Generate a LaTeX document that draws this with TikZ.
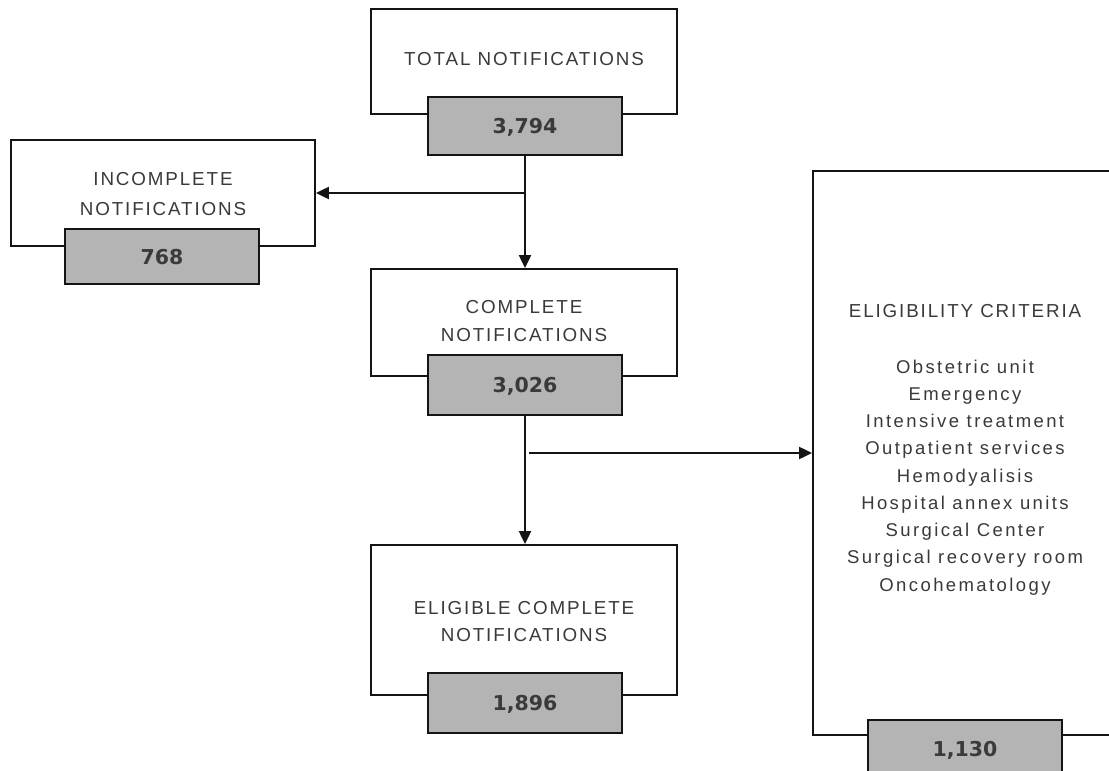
\documentclass[tikz,border=0pt]{standalone}
\usepackage{fontspec}
\setmainfont{Liberation Sans}
\newfontfamily\headfont[LetterSpace=10]{Liberation Sans}
\newfontfamily\listfont[LetterSpace=13]{Liberation Sans}
\newfontfamily\numfont{DejaVu Sans}
\usetikzlibrary{arrows.meta}
\definecolor{txtgray}{HTML}{3A3A3A}
\definecolor{boxgray}{HTML}{B4B4B4}
\definecolor{linecol}{HTML}{141414}
\begin{document}
\begin{tikzpicture}[x=1pt,y=-1pt,
  outerbox/.style={draw=linecol, line width=1.8pt, fill=white, inner sep=0pt},
  numbox/.style={draw=linecol, line width=2pt, fill=boxgray, minimum width=194, minimum height=58, inner sep=0pt, text depth=0pt, font=\numfont\bfseries\fontsize{20.5}{24}\selectfont, text=txtgray},
  head/.style={font=\headfont\fontsize{18.8}{22}\selectfont, text=txtgray, anchor=base, inner sep=0pt},
  crit/.style={font=\listfont\fontsize{18.5}{22}\selectfont, text=txtgray, anchor=base, inner sep=0pt},
  conn/.style={line width=2pt, draw=linecol},
  arr/.style={conn, -{Triangle[length=13pt,width=12pt]}}]
\useasboundingbox (0,0) rectangle (1109,771);
\fill[white] (0,0) rectangle (1109,771);
\clip (0,0) rectangle (1109,771);

% total
\node[outerbox, minimum width=306, minimum height=105] (total) at (524,61.5) {};
\node[numbox] (totaln) at (525,126) {3,794};
\node[head] (totalt) at (524,65) {TOTAL NOTIFICATIONS};

% incomplete
\node[outerbox, minimum width=304, minimum height=106] (incomplete) at (163,193) {};
\node[numbox, minimum height=55] (incompleten) at (162,256.5) {768};
\node[head] (incomplete1) at (163,185) {INCOMPLETE};
\node[head] (incomplete2) at (163,215) {NOTIFICATIONS};

% complete
\node[outerbox, minimum width=306, minimum height=107] (complete) at (524,322.5) {};
\node[numbox, minimum height=60] (completen) at (525,385) {3,026};
\node[head] (complete1) at (524,313) {COMPLETE};
\node[head] (complete2) at (524,341) {NOTIFICATIONS};

% eligible
\node[outerbox, minimum width=306, minimum height=150] (eligible) at (524,620) {};
\node[numbox, minimum height=60] (eligiblen) at (525,703) {1,896};
\node[head] (eligible1) at (524,614) {ELIGIBLE COMPLETE};
\node[head] (eligible2) at (524,641) {NOTIFICATIONS};

% criteria
\node[outerbox, minimum width=304, minimum height=564] (criteria) at (965,453) {};
\node[numbox] (criterian) at (965,749) {1,130};
\node[head] (criteriat) at (965,317) {ELIGIBILITY CRITERIA};
\foreach \t [count=\i from 0] in {Obstetric unit, Emergency, Intensive treatment, Outpatient services, Hemodyalisis, Hospital annex units, Surgical Center, Surgical recovery room, Oncohematology}
  \node[crit] (crit\i) at (965,373+27.25*\i) {\t};

% connectors
\draw[arr] (totaln.south) -- (totaln.south |- complete.north);
\coordinate (b1) at (totaln.south |- incomplete.east);
\draw[arr] (b1) -- (incomplete.east);
\draw[arr] (completen.south) -- (completen.south |- eligible.north);
\coordinate (b2) at ([xshift=4pt]completen.south |- criteria.west);
\draw[arr] (b2) -- (criteria.west);
\end{tikzpicture}
\end{document}
